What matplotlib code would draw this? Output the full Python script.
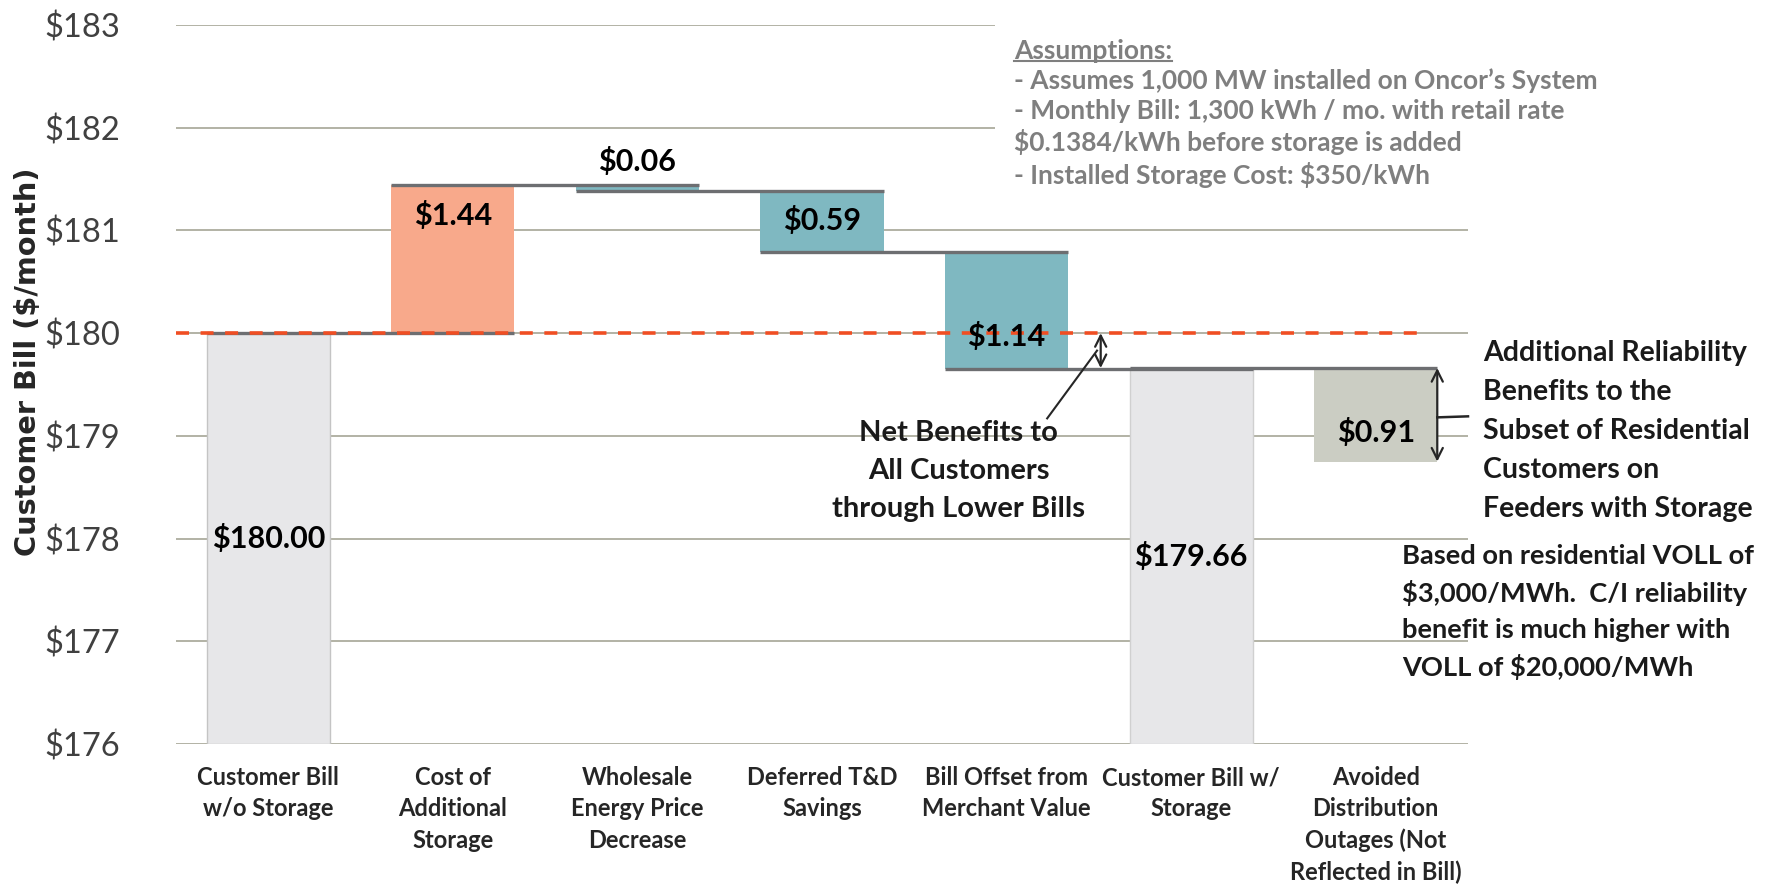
import matplotlib
matplotlib.use("Agg")
import matplotlib.pyplot as plt
from matplotlib.patches import Rectangle
from matplotlib.lines import Line2D

categories = [
    "Customer Bill\nw/o Storage",
    "Cost of\nAdditional\nStorage",
    "Wholesale\nEnergy Price\nDecrease",
    "Deferred T&D\nSavings",
    "Bill Offset from\nMerchant Value",
    "Customer Bill w/\nStorage",
    "Avoided\nDistribution\nOutages (Not\nReflected in Bill)",
]
start_bill = 180.00
steps = [1.44, -0.06, -0.59, -1.14]
end_bill = 179.66
reliability = -0.91
value_labels = ["$180.00", "$1.44", "$0.06", "$0.59", "$1.14", "$179.66", "$0.91"]
y_ticks = [176, 177, 178, 179, 180, 181, 182, 183]
y_tick_labels = ["$176", "$177", "$178", "$179", "$180", "$181", "$182", "$183"]

# label heights (layout only)
label_y = [178.0, 181.15, 181.67, 181.10, 179.97, 177.83, 179.03]

FONT = ["Lato", "DejaVu Sans"]
GRID = "#a6a696"
CONNECT = "#6d6e71"
RED = "#f04e23"
colors = ["#e7e7e9", "#f8a98b", "#7fb8c1", "#7fb8c1", "#7fb8c1", "#e7e7e9", "#cbcdc3"]
edges = ["#c4c4c4", "none", "none", "none", "none", "#d0d0d0", "none"]

ymin, ymax = y_ticks[0], y_ticks[-1]

# waterfall geometry
levels = [start_bill]
for s in steps:
    levels.append(levels[-1] + s)
bottoms = [ymin]
heights = [start_bill - ymin]
for i, s in enumerate(steps):
    lo = min(levels[i], levels[i + 1])
    bottoms.append(lo)
    heights.append(abs(s))
bottoms.append(ymin)
heights.append(end_bill - ymin)
bottoms.append(end_bill + reliability)
heights.append(-reliability)
end_levels = levels + [end_bill]

fig = plt.figure(figsize=(17.73, 8.84), dpi=100)
ax = fig.add_axes([176 / 1773, 1 - 744 / 884, 1292 / 1773, 719 / 884])

x = list(range(len(categories)))
width = 0.667
ax.set_xlim(-0.5, len(categories) - 0.5)
ax.set_ylim(ymin, ymax)

for yt in y_ticks:
    ax.axhline(yt, color=GRID, lw=1.2, zorder=1)

ax.bar(x, heights, width=width, bottom=bottoms, color=colors,
       edgecolor=edges, linewidth=1.0, zorder=2)

# connector lines
for i, lvl in enumerate(end_levels):
    ax.plot([i - width / 2, i + 1 + width / 2], [lvl, lvl],
            color=CONNECT, lw=2.4, zorder=3, solid_capstyle="butt")

# reference line at the starting bill
ax.plot([-0.5, 6.26], [start_bill, start_bill], color=RED, lw=2.6,
        dashes=(3.6, 3.2), zorder=4)

for i, (lab, ly) in enumerate(zip(value_labels, label_y)):
    ax.text(i, ly, lab, ha="center", va="center", fontsize=22,
            fontweight="bold", family=FONT, color="black", zorder=6)

# net benefit arrow and leader
ax.annotate("", xy=(4.51, start_bill), xytext=(4.51, end_bill),
            arrowprops=dict(arrowstyle="<->", color="#262626", lw=1.6,
                            mutation_scale=20, shrinkA=0, shrinkB=0), zorder=6)
ax.plot([4.22, 4.49], [179.17, 179.83], color="#262626", lw=1.5, zorder=6)
ax.text(3.74, 178.66, "Net Benefits to\nAll Customers\nthrough Lower Bills",
        ha="center", va="center", fontsize=21, fontweight="bold", family=FONT,
        color="#1a1a1a", linespacing=1.58, zorder=6)

# reliability arrow and leader
rx = 6 + width / 2
ax.annotate("", xy=(rx, end_bill), xytext=(rx, end_bill + reliability),
            arrowprops=dict(arrowstyle="<->", color="#262626", lw=1.6,
                            mutation_scale=20, shrinkA=0, shrinkB=0), zorder=6)
ax.plot([rx, 6.5], [179.18, 179.19], color="#262626", lw=1.8, zorder=6,
        clip_on=False)

ax.set_xticks(x)
ax.set_xticklabels(categories, fontsize=17, fontweight="bold", family=FONT,
                   color="#262626")
for lbl in ax.get_xticklabels():
    lbl.set_linespacing(1.43)
ax.set_yticks(y_ticks)
ax.set_yticklabels(y_tick_labels, fontsize=23.5, family=FONT, color="#404040")
ax.tick_params(axis="x", length=0, pad=16)
ax.tick_params(axis="y", length=0, pad=40)
for sp in ax.spines.values():
    sp.set_visible(False)

fig.text(28 / 1773, 1 - 362 / 884, "Customer Bill ($/month)", rotation=90,
         ha="center", va="center", fontsize=20.8, fontweight="bold",
         family="DejaVu Sans", color="#262626")

# assumptions box
fig.patches.append(Rectangle((995 / 1773, 1 - 195 / 884), 1 - 995 / 1773,
                             180 / 884, transform=fig.transFigure,
                             facecolor="white", edgecolor="none", zorder=1))
head = fig.text(1014 / 1773, 1 - 51 / 884, "Assumptions:", ha="left",
                va="center", fontsize=19, fontweight="bold", family=FONT,
                color="#7f7f7f")
fig.text(1014 / 1773, 1 - 128 / 884,
         "- Assumes 1,000 MW installed on Oncor\u2019s System\n"
         "- Monthly Bill: 1,300 kWh / mo. with retail rate\n"
         "$0.1384/kWh before storage is added\n"
         "- Installed Storage Cost: $350/kWh",
         ha="left", va="center", fontsize=19, fontweight="bold", family=FONT,
         color="#7f7f7f", linespacing=1.3)

fig.text(1483 / 1773, 1 - 431 / 884,
         "Additional Reliability\nBenefits to the\nSubset of Residential\n"
         "Customers on\nFeeders with Storage",
         ha="left", va="center", fontsize=20.5, fontweight="bold", family=FONT,
         color="#1a1a1a", linespacing=1.63)
fig.text(1402 / 1773, 1 - 612 / 884,
         "Based on residential VOLL of\n$3,000/MWh.  C/I reliability\n"
         "benefit is much higher with\nVOLL of $20,000/MWh",
         ha="left", va="center", fontsize=19.6, fontweight="bold", family=FONT,
         color="#1a1a1a", linespacing=1.55)

# underline the heading
fig.canvas.draw()
bb = head.get_window_extent().transformed(fig.transFigure.inverted())
fig.add_artist(Line2D([bb.x0, bb.x1], [bb.y0 + 0.002, bb.y0 + 0.002],
                      transform=fig.transFigure, color="#7f7f7f", lw=1.5))

fig.savefig("out.png", dpi=100)
